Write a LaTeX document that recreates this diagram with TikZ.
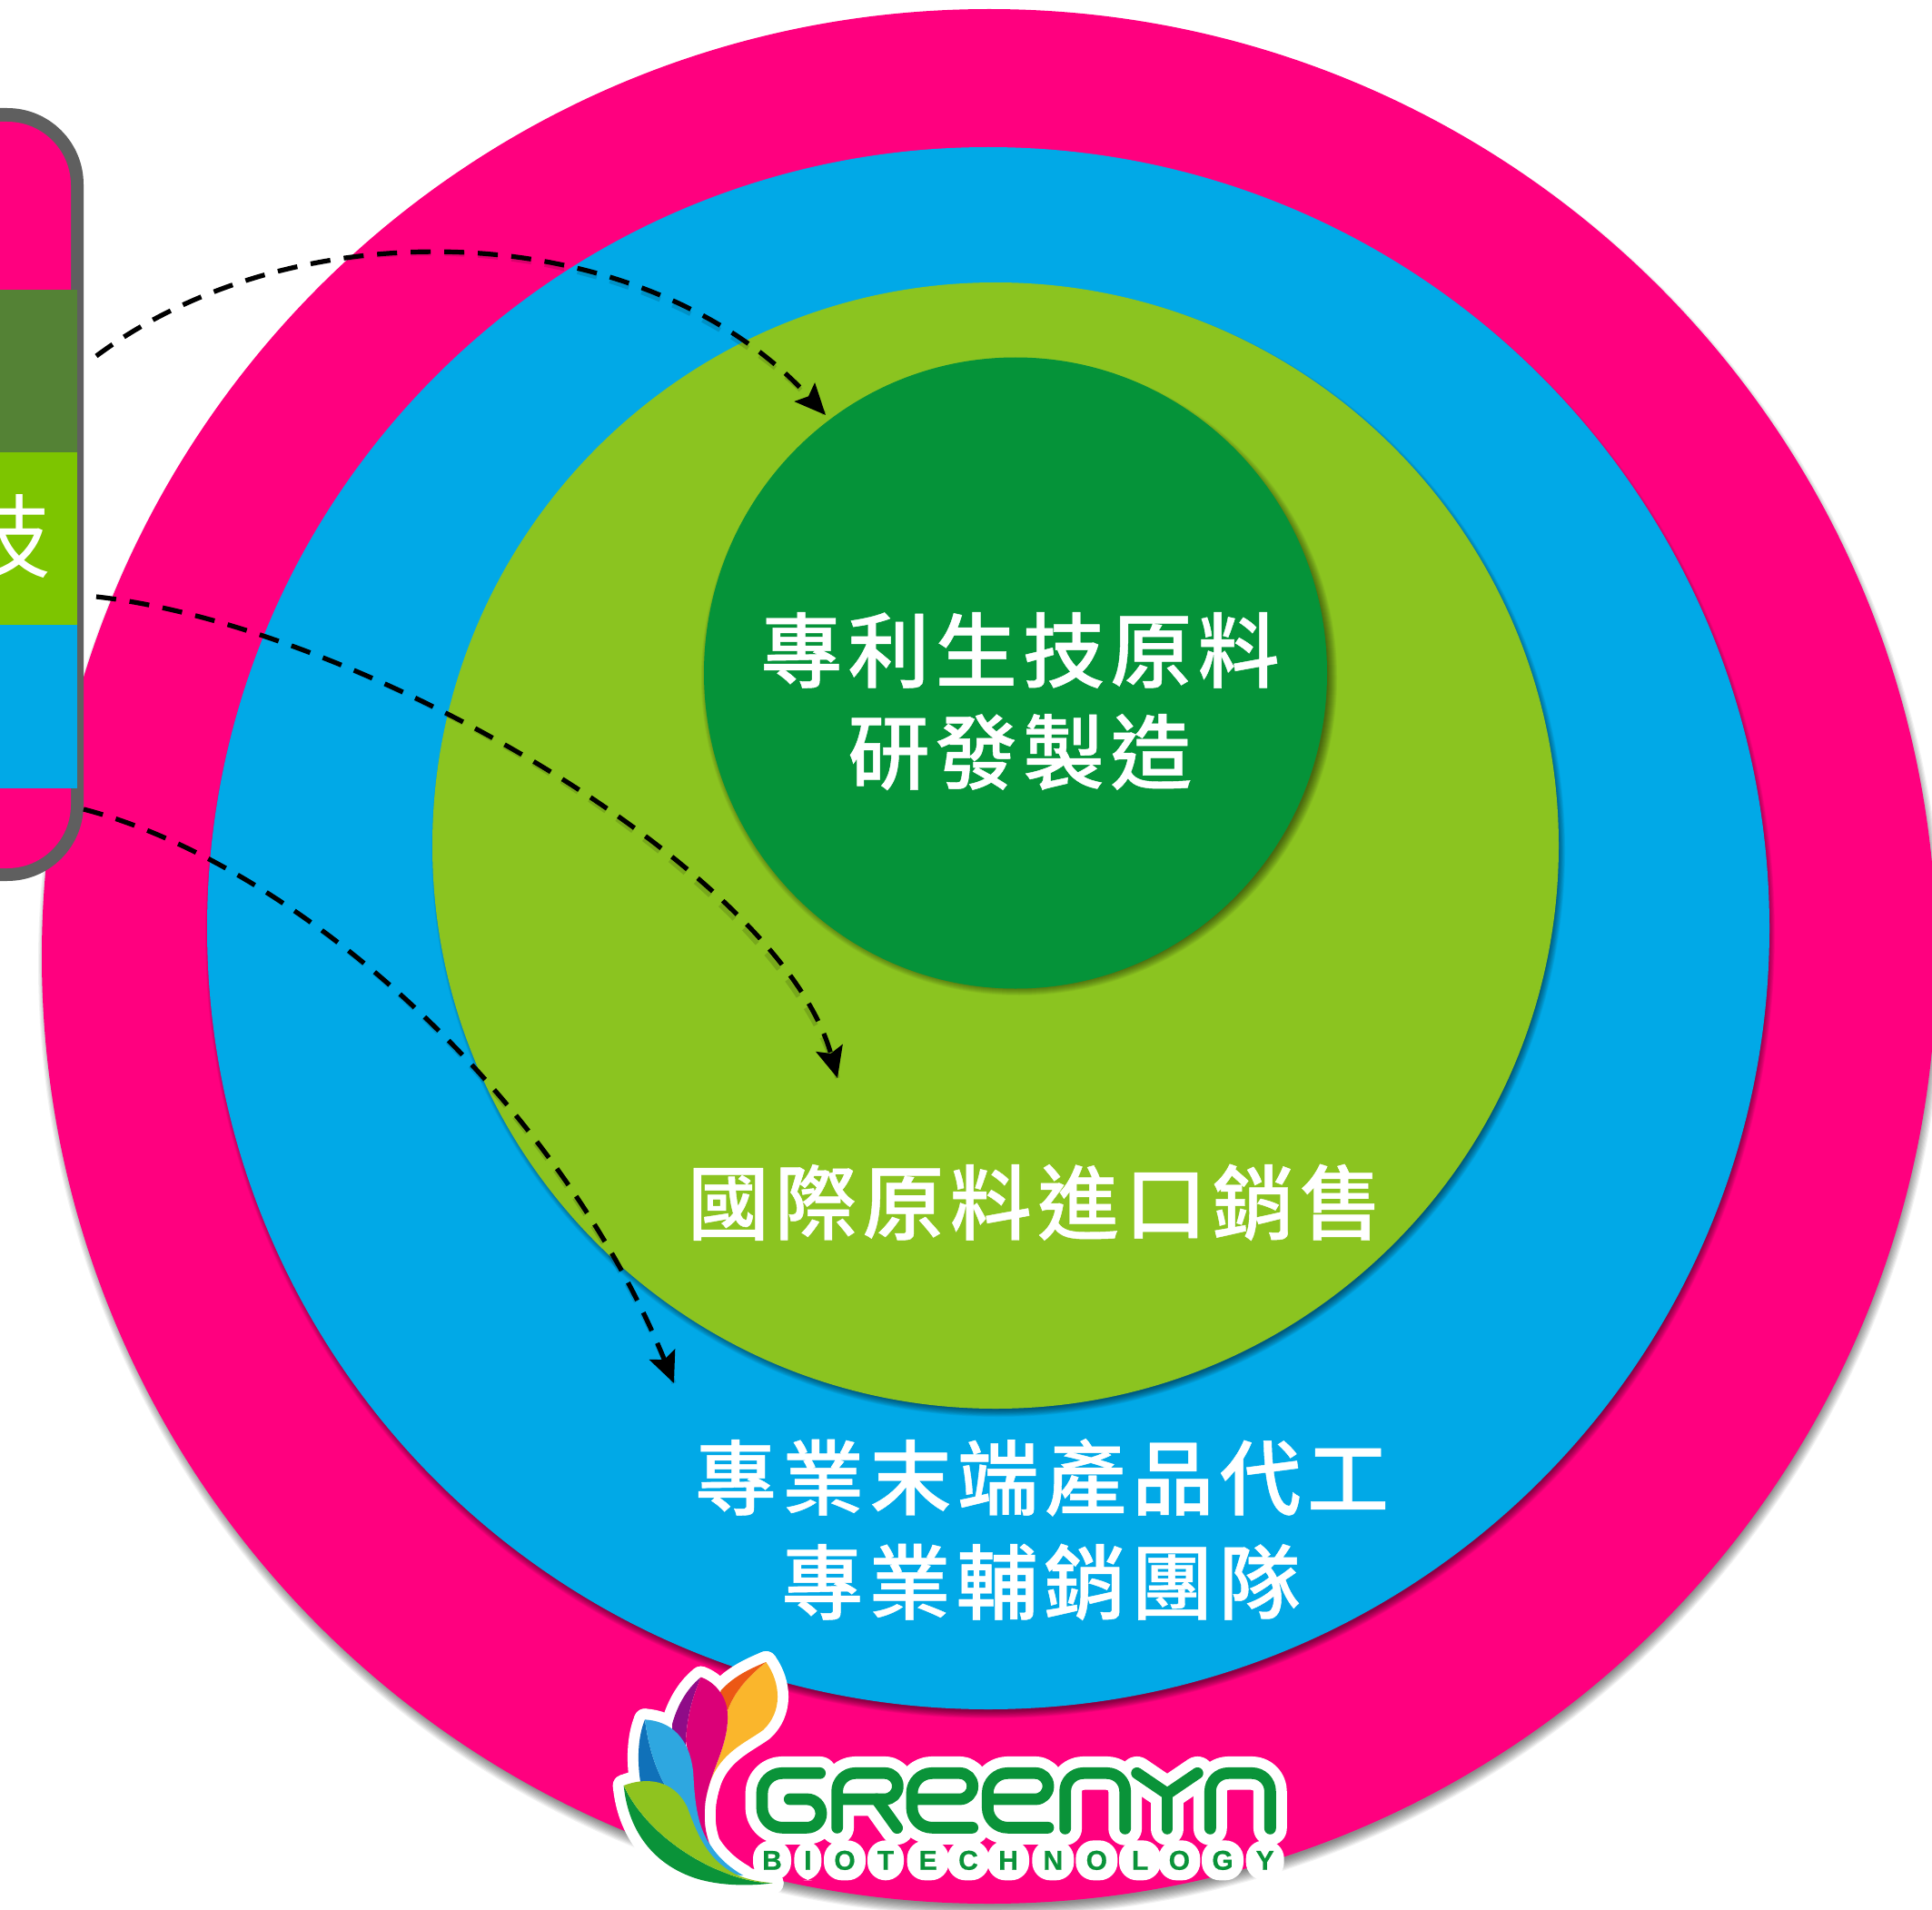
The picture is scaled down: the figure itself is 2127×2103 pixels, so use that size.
\documentclass[tikz,border=0pt]{standalone}
\usepackage{fontspec}
\setmainfont{Liberation Sans}
\newfontfamily\cjk[LetterSpace=7,FakeBold=0.5]{Noto Sans CJK TC Medium}
\newfontfamily\cjkreg{Noto Sans CJK TC}
\newfontfamily\logofont[BoldFeatures={FakeBold=0.6}]{Liberation Sans}
\usetikzlibrary{arrows.meta,shapes.geometric}
\definecolor{cpink}{HTML}{FF007F}
\definecolor{cblue}{HTML}{01A9E7}
\definecolor{cgreen}{HTML}{8BC420}
\definecolor{cdeep}{HTML}{059339}
\definecolor{cgray}{HTML}{5F5F5F}
\definecolor{cband}{HTML}{548235}
\definecolor{clime}{HTML}{7DC500}
\definecolor{lgreen}{HTML}{0A9339}
\definecolor{pyellow}{RGB}{250,182,44}
\definecolor{porange}{RGB}{236,88,20}
\definecolor{pmagenta}{RGB}{219,0,120}
\definecolor{ppurple}{RGB}{143,12,136}
\definecolor{pdblue}{RGB}{16,113,185}
\definecolor{plblue}{RGB}{46,167,224}
\definecolor{plgreen}{RGB}{143,195,31}
\tikzset{
 disc/.style={circle,inner sep=0pt,draw=none},
 label cjk/.style={text=white,anchor=base,inner sep=0pt,font=\cjk\fontsize{45pt}{50pt}\selectfont},
 flow/.style={line width=2.6pt,dash pattern=on 11pt off 7.5pt},
 flowline/.style={flow,black,-{Stealth[length=17pt,width=15pt,inset=3pt]}},
 flowshade/.style={flow,black,opacity=.14},
 ghalo/.style={white,line width=18.4pt,line cap=round,line join=round},
 gink/.style={lgreen,line width=6.4pt,line cap=round,line join=round},
 petalhalo/.style={draw=white,fill=white,line width=12pt,line join=round},
 bub/.style={rectangle,rounded corners=10pt,fill=white,inner sep=0pt,minimum height=22pt,minimum width=23pt,text=lgreen,font=\logofont\bfseries\fontsize{15pt}{15pt}\selectfont},
}
% soft shadow: centre x, y, radius, dx, dy, spread
\newcommand{\softshade}[6]{%
 \foreach \k in {-5,...,5}{%
  \fill[black,opacity=.05] ({#1+#4},{#2+#5}) circle[radius={(#3+\k*#6/5)*0.5pt}];}}
\newcommand{\letterG}{(248,82) [rounded corners=11pt] -- (57,82) -- (57,262) [rounded corners=7.8pt] -- (252,262) -- (252,168) -- (148,168)}
\newcommand{\letterRa}{(305,262) [rounded corners=10pt] -- (305,82) [rounded corners=7pt] -- (505,82) -- (505,168) [sharp corners] -- (305,168)}
\newcommand{\letterRb}{(435,168) -- (503,263)}
\newcommand{\letterE}[1]{[rounded corners=7pt] ({#1+552},168) -- ({#1+752},168) -- ({#1+752},82) [rounded corners=11pt] -- ({#1+552},82) -- ({#1+552},262) [sharp corners] -- ({#1+752},262)}
\newcommand{\letterN}[1]{({#1},265) [rounded corners=10pt] -- ({#1},82) -- ({#1+198},82) [sharp corners] -- ({#1+198},265)}
\newcommand{\letterYa}{(1295,82) -- (1395,150) -- (1495,82)}
\newcommand{\letterYb}{(1395,150) -- (1395,265)}
\newcommand{\petalY}{(550,60) .. controls (600,130) and (605,225) .. (540,285) .. controls (470,335) and (370,370) .. (350,520) .. controls (365,420) and (425,340) .. (423,240) -- (395,230) -- (425,215) .. controls (450,150) and (500,100) .. (550,60) -- cycle}
\newcommand{\petalO}{(550,60) .. controls (490,85) and (440,110) .. (400,155) -- (395,230) -- (425,215) .. controls (450,150) and (500,100) .. (550,60) -- cycle}
\newcommand{\petalM}{(335,110) .. controls (380,125) and (425,175) .. (423,240) .. controls (425,340) and (365,420) .. (350,520) .. controls (345,570) and (345,610) .. (365,665) -- (340,665) -- (310,560) -- (300,400) -- (285,320) .. controls (290,230) and (310,170) .. (335,110) -- cycle}
\newcommand{\petalP}{(335,110) .. controls (285,150) and (255,210) .. (240,265) -- (240,300) -- (285,360) -- (285,320) .. controls (290,230) and (310,170) .. (335,110) -- cycle}
\newcommand{\petalB}{(150,250) .. controls (235,255) and (300,310) .. (310,430) .. controls (315,530) and (325,610) .. (370,670) .. controls (400,715) and (440,745) .. (475,765) -- (400,760) -- (300,640) -- (215,465) .. controls (180,400) and (160,330) .. (150,250) -- cycle}
\newcommand{\petalD}{(150,250) .. controls (125,310) and (125,390) .. (135,455) -- (135,480) -- (215,480) -- (215,465) .. controls (180,400) and (160,330) .. (150,250) -- cycle}
\newcommand{\petalL}{(80,468) .. controls (150,440) and (245,445) .. (290,540) .. controls (320,620) and (350,700) .. (430,750) .. controls (470,775) and (520,785) .. (572,790) .. controls (420,790) and (170,660) .. (80,468) -- cycle}
\newcommand{\petalG}{(80,468) .. controls (170,660) and (420,790) .. (572,790) .. controls (500,800) and (400,800) .. (320,775) .. controls (180,730) and (95,620) .. (80,468) -- cycle}
\begin{document}
\begin{tikzpicture}[x=0.5pt,y=-0.5pt]
\useasboundingbox (0,0) rectangle (2127,2103);
\clip (0,0) rectangle (2127,2103);
\fill[white] (0,0) rectangle (2127,2103);
% circles with soft shadows
\softshade{1089}{1053}{1043}{2}{8}{6}
\node[disc,fill=cpink,minimum size=1043pt] (ring1) at (1089,1053) {};
\softshade{1088}{1022}{860}{2}{6}{4}
\node[disc,fill=cblue,minimum size=860pt] (ring2) at (1088,1022) {};
\softshade{1096}{931}{620}{3}{5}{4}
\node[disc,fill=cgreen,minimum size=620pt] (ring3) at (1096,931) {};
\softshade{1118}{741}{345}{4}{5}{5}
\node[ellipse,inner sep=0pt,draw=none,fill=cdeep,minimum width=343pt,minimum height=347.5pt] (ring4) at (1118,741) {};
% left panel
\fill[cgray,rounded corners=42pt] (-200,119) rectangle (92,970);
\fill[cpink,rounded corners=35pt] (-200,134) rectangle (78,956);
\fill[cband] (-10,319) rectangle (85,498);
\fill[clime] (-10,498) rectangle (85,688);
\fill[cblue] (-10,688) rectangle (85,868);
\node[text=white,inner sep=0pt,font=\cjkreg\fontsize{50pt}{50pt}\selectfont] (tech) at (7,591) {技};
% labels
\node[label cjk] (t1) at (1123,750) {專利生技原料};
\node[label cjk] (t2) at (1123,862) {研發製造};
\node[label cjk] (t3) at (1139,1358) {國際原料進口銷售};
\node[label cjk] (t4) at (1147,1661) {專業末端產品代工};
\node[label cjk] (t5) at (1146,1776) {專業輔銷團隊};
% connectors
\coordinate (a1) at (106,392); \coordinate (a1c) at (330,225); \coordinate (a1d) at (710,240); \coordinate (a1e) at (909,457);
\coordinate (a2) at (106,657); \coordinate (a2c) at (400,690); \coordinate (a2d) at (860,960); \coordinate (a2e) at (922,1187);
\coordinate (a3) at (92,891); \coordinate (a3c) at (320,950); \coordinate (a3d) at (610,1200); \coordinate (a3e) at (742,1523);
\begin{scope}[shift={(5,7)}]
\draw[flowshade] (a1) .. controls (a1c) and (a1d) .. (a1e);
\draw[flowshade] (a2) .. controls (a2c) and (a2d) .. (a2e);
\draw[flowshade] (a3) .. controls (a3c) and (a3d) .. (a3e);
\end{scope}
\draw[flowline] (a1) .. controls (a1c) and (a1d) .. (a1e);
\draw[flowline] (a2) .. controls (a2c) and (a2d) .. (a2e);
\draw[flowline] (a3) .. controls (a3c) and (a3d) .. (a3e);
% logo flower
\begin{scope}[shift={(660,1810)},x=0.1666667pt,y=-0.1666667pt]
\foreach \p in {\petalY,\petalO,\petalM,\petalP,\petalB,\petalD,\petalL,\petalG}{\path[petalhalo] \p;}
\fill[pyellow] \petalY;
\fill[porange] \petalO;
\fill[ppurple] \petalP;
\fill[pmagenta] \petalM;
\fill[pdblue] \petalD;
\fill[plblue] \petalB;
\fill[lgreen] \petalG;
\fill[plgreen] \petalL;
\end{scope}
% logo wordmark
\begin{scope}[shift={(820,1925)},x=0.1666667pt,y=-0.1666667pt]
\foreach \st in {ghalo,gink}{
 \draw[\st] \letterG;
 \draw[\st] \letterRa;
 \draw[\st] \letterRb;
 \draw[\st] \letterE{0};
 \draw[\st] \letterE{250};
 \draw[\st] \letterN{1058};
 \draw[\st] \letterYa;
 \draw[\st] \letterYb;
 \draw[\st] \letterN{1537};
}
\node[bub,minimum width=21pt] (b1) at (90,370) {B};
\node[bub,minimum width=15pt] (b2) at (208,370) {I};
\node[bub] (b3) at (330,370) {O};
\node[bub,minimum width=20pt] (b4) at (465,370) {T};
\node[bub] (b5) at (605,370) {E};
\node[bub] (b6) at (738,370) {C};
\node[bub] (b7) at (870,370) {H};
\node[bub] (b8) at (1018,370) {N};
\node[bub] (b9) at (1162,370) {O};
\node[bub] (b10) at (1305,370) {L};
\node[bub] (b11) at (1435,370) {O};
\node[bub] (b12) at (1578,370) {G};
\node[bub,minimum width=21pt] (b13) at (1718,370) {Y};
\end{scope}
\end{tikzpicture}
\end{document}
